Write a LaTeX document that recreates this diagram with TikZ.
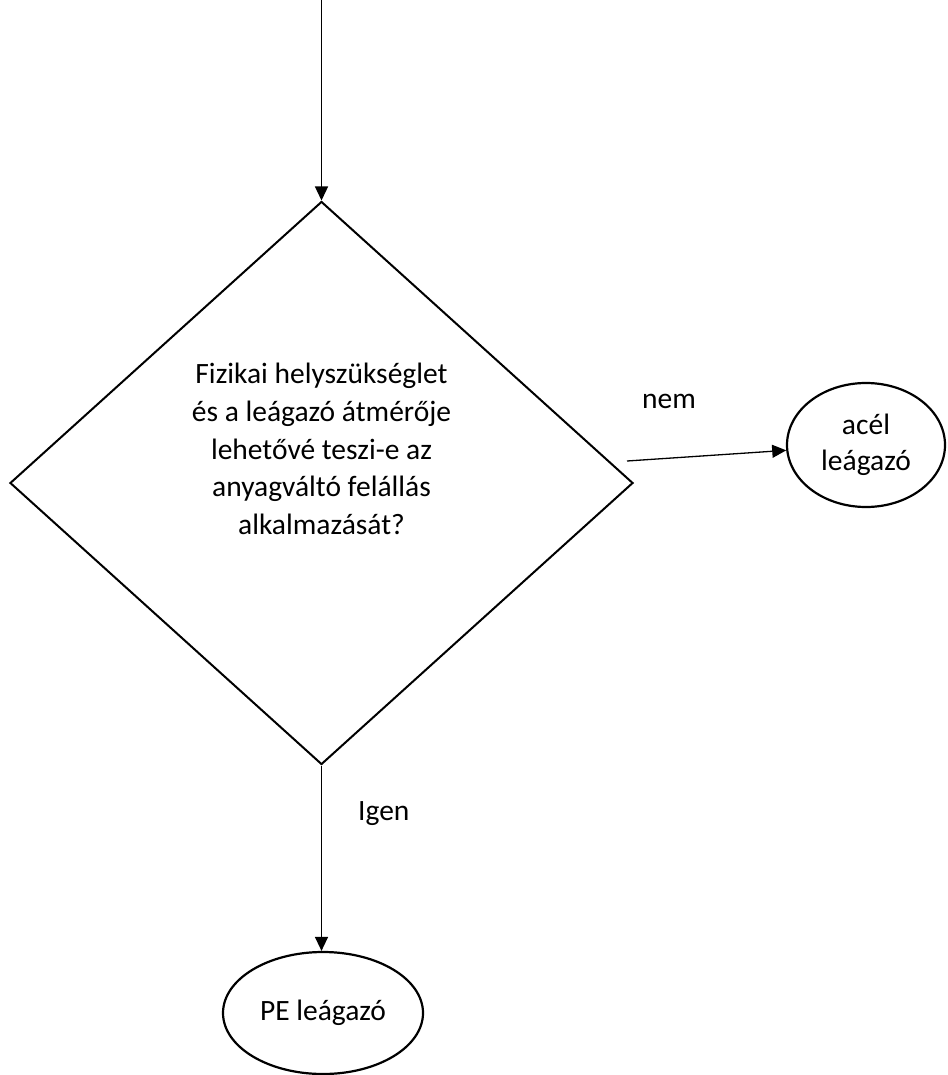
\documentclass[tikz,border=0pt]{standalone}
\usepackage{fontspec}
\setmainfont{Carlito}
\usetikzlibrary{shapes.geometric,arrows.meta}
\begin{document}
\begin{tikzpicture}[x=1pt,y=1pt,
  txt/.style={font=\fontsize{29.5}{37.8}\selectfont},
  decision/.style={diamond,draw,line width=2pt,minimum width=623pt,minimum height=563pt,inner sep=0pt},
  terminal/.style={ellipse,draw,line width=2.2pt,inner sep=2pt,align=center,font=\fontsize{29.5}{36.5}\selectfont},
  flow/.style={line width=1.3pt,-{Triangle[length=14pt,width=13pt]}}]
\useasboundingbox (0,0) rectangle (947,-1075);
\coordinate (start) at (321.5,0);
\node[decision] (q) at (321.5,-483) {};
\node[txt,align=center,inner sep=0pt] (qtext) at (321.5,-449) {Fizikai helyszükséglet\\és a leágazó átmérője\\lehetővé teszi-e az\\anyagváltó felállás\\alkalmazását?};
\node[terminal,minimum width=158pt,minimum height=124pt] (acel) at (866,-445) {acél\\leágazó};
\node[terminal,minimum width=200pt,minimum height=122pt] (pe) at (323,-1013) {PE leágazó};
\coordinate (nemstart) at (627,-461);
\draw[flow] (start) -- (q.north);
\draw[flow] (nemstart) -- (acel);
\draw[flow] (q.south) -- (q.south |- pe.north);
\node[txt,anchor=base west,inner sep=0pt] (nem) at (642,-408) {nem};
\node[txt,anchor=base west,inner sep=0pt] (igen) at (358,-820) {Igen};
\end{tikzpicture}
\end{document}
